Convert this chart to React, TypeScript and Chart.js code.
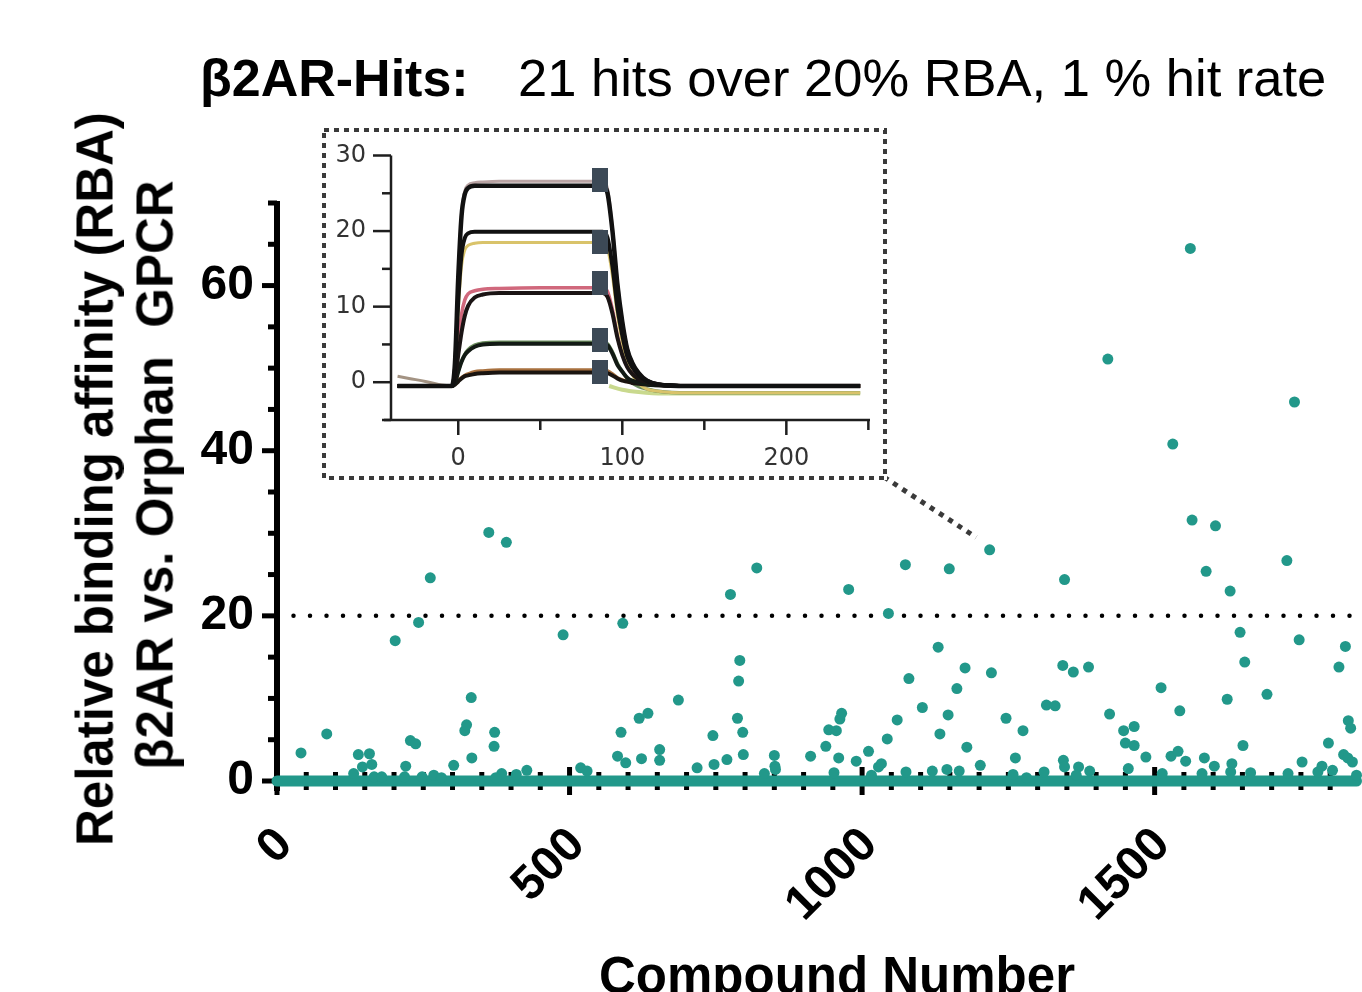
import React, { useEffect, useRef } from "react";
import { Chart, registerables } from "chart.js";

Chart.register(...registerables);

const TEAL = "#22988a";
const SANS = "'Liberation Sans', Arial, Helvetica, sans-serif";

// ---------- main screen data ----------
const compoundIds = [
  362, 392, 262, 202, 242, 489, 591, 775, 820, 977, 1045, 1074, 1149, 1218, 1346, 1420, 1531, 1561, 1564, 1604,
  1588, 1629, 1726, 1739, 1646, 1747, 1826,
  41, 85, 139, 158, 146, 162, 131, 166, 179, 220, 228, 237, 218, 248, 268, 281, 302, 321, 324, 332, 333, 372,
  371, 384, 374, 409, 427,
  519, 530, 582, 588, 596, 619, 634, 623, 654, 654, 686, 718, 745, 747, 769, 791, 789, 787, 796, 797, 833, 850,
  851, 852, 912, 938,
  943, 956, 962, 965, 960, 952, 990, 1011, 1028, 1033, 1016, 1043, 1060, 1080, 1075, 1103, 1120, 1130, 1133,
  1147, 1145, 1162, 1176, 1179, 1166, 1202, 1221, 1246, 1275, 1262, 1258, 1281, 1311, 1315, 1330, 1343, 1361,
  1387, 1344, 1346, 1370, 1389, 1366,
  1423, 1447, 1465, 1450, 1465, 1485, 1455, 1511, 1543, 1528, 1540, 1553, 1513, 1585, 1602, 1581, 1624, 1654,
  1651, 1632, 1630, 1664, 1692, 1752, 1728, 1786, 1779, 1804, 1797, 1815, 1831, 1835, 1823, 1830, 1838, 1845,
];
const rbaPercent = [
  30.1, 28.9, 24.6, 17.0, 19.2, 17.7, 19.1, 22.6, 25.8, 23.2, 20.3, 26.2, 25.7, 28.0, 24.4, 51.1, 40.8, 64.5, 31.6, 30.9,
  25.4, 23.0, 26.7, 45.9, 18.0, 17.1, 16.3,
  3.4, 5.7, 3.2, 3.3, 1.7, 2.0, 0.9, 0.5, 0.5, 1.8, 4.9, 4.5, 0.5, 0.5, 0.7, 0.4, 1.9, 6.1, 6.8, 10.1, 2.8, 5.9,
  4.2, 0.9, 0.4, 0.8, 1.3,
  1.6, 1.2, 3.0, 5.9, 2.2, 7.6, 8.2, 2.7, 3.8, 2.5, 9.8, 1.6, 5.5, 2.0, 2.6, 14.6, 12.1, 7.6, 5.9, 3.2, 0.9, 3.1,
  1.8, 1.4, 3.0, 4.2,
  6.2, 6.1, 7.5, 8.2, 2.8, 1.0, 2.4, 3.6, 1.7, 2.1, 0.7, 5.1, 7.4, 12.4, 1.1, 8.9, 1.2, 16.2, 5.7,
  8.0, 1.4, 11.2, 13.7, 4.1, 1.2, 1.9, 13.1, 7.6, 6.1, 2.8, 0.8, 0.4, 1.1, 9.2, 9.1, 14.0, 13.2,
  13.8, 2.5, 1.7, 1.7, 1.2, 0.7,
  8.1, 6.1, 6.6, 4.6, 4.3, 2.9, 1.5, 11.3, 8.5, 3.0, 3.6, 2.4, 0.9, 2.8, 1.8, 0.9, 9.9, 14.4,
  4.3, 2.1, 1.1, 1.0, 10.5, 2.3, 0.9, 1.8, 1.1, 1.3, 4.6, 13.8, 7.3, 6.4, 3.2, 2.8, 2.3, 0.7,
];
const HIT_THRESHOLD = 20;
const X_MAX = 1845;
const Y_MAX = 70;
const xTickValues = [0, 500, 1000, 1500];
const yTickValues = [0, 20, 40, 60];

// ---------- inset sensorgram data ----------
const sprTime = [-37, -4, -2, 0, 2, 4, 6, 10, 15, 25, 50, 88, 91, 94, 97, 100, 103, 106, 110, 115, 122, 140, 245];
const sprBlackA = [-0.5, -0.5, 2.6, 13.9, 22, 24.9, 25.7, 26, 26, 26, 26, 26, 25, 20, 13, 8, 4.4, 2.6, 1.2, 0.2, -0.3, -0.5, -0.5];
const sprGreyA = [-0.5, -0.5, 2.7, 14.2, 22.4, 25.3, 26.1, 26.4, 26.5, 26.6, 26.6, 26.6, 25.6, 20.5, 13.4, 8.2, 4.5, 2.7, 1.3, 0.3, -0.2, -0.4, -0.4];
const sprBlackB = [-0.5, -0.5, 1.8, 10.7, 16.9, 19.1, 19.7, 19.9, 19.9, 19.9, 19.9, 19.9, 19.1, 15.3, 9.9, 6.2, 3.4, 2.0, 0.9, 0.2, -0.3, -0.5, -0.5];
const sprYellowB = [-0.5, -0.5, 1.6, 9.5, 15.4, 17.5, 18.1, 18.4, 18.5, 18.5, 18.5, 18.5, 17.7, 14.1, 8.9, 5.3, 2.6, 1.0, -0.2, -0.9, -1.2, -1.4, -1.4];
const sprPinkC = [-0.5, -0.5, 0.8, 5.5, 9.0, 10.9, 11.7, 12.1, 12.3, 12.4, 12.5, 12.5, 12.0, 9.6, 6.2, 3.8, 2.1, 1.2, 0.5, 0.1, -0.3, -0.5, -0.5];
const sprBlackC = [-0.5, -0.5, 0.4, 3.6, 6.6, 8.8, 10.1, 11.2, 11.6, 11.8, 11.8, 11.8, 11.3, 9.1, 5.9, 3.6, 2.0, 1.1, 0.4, 0, -0.3, -0.5, -0.5];
const sprGreenD = [-0.5, -0.5, -0.1, 1.5, 2.8, 3.7, 4.3, 4.9, 5.2, 5.3, 5.3, 5.3, 5.1, 4.0, 2.5, 1.4, 0.5, -0.1, -0.6, -0.9, -1.2, -1.4, -1.4];
const sprBlackD = [-0.5, -0.5, -0.1, 1.4, 2.7, 3.6, 4.1, 4.7, 5.0, 5.1, 5.1, 5.1, 4.9, 3.8, 2.3, 1.4, 0.6, 0.2, 0, -0.3, -0.4, -0.5, -0.5];
const sprBrownE = [-0.5, -0.5, -0.3, 0.2, 0.6, 0.9, 1.1, 1.4, 1.5, 1.6, 1.6, 1.6, 1.5, 1.1, 0.6, 0.3, 0.1, 0, -0.2, -0.3, -0.4, -0.5, -0.5];
const sprBlackE = [-0.5, -0.5, -0.3, 0.1, 0.5, 0.8, 0.9, 1.1, 1.2, 1.3, 1.3, 1.3, 1.2, 0.9, 0.5, 0.2, 0.1, -0.1, -0.2, -0.3, -0.4, -0.5, -0.5];
const sprPreTime = [-37, -30, -20, -12, -5];
const sprPreDrift = [0.8, 0.5, 0.1, -0.3, -0.5];
const sprPostTime = [92, 100, 110, 125, 245];
const sprPostLow = [-0.5, -1.0, -1.3, -1.5, -1.5];
const sprMarkerTime = [86.6, 86.6, 86.6, 86.6, 86.6];
const sprMarkerLevel = [26.8, 18.5, 13.1, 5.6, 1.3];
const insetXTicks = [0, 100, 200];
const insetYTicks = [0, 10, 20, 30];

// ---------- layout ----------
const W = 1362;
const H = 992;
const INSET = { left: 322, top: 128, width: 565, height: 352 };

const pts = (xs: number[], ys: number[]) => xs.map((x, i) => ({ x, y: ys[i] }));

const mainAxesPlugin = {
  id: "mainAxes",
  beforeDatasetsDraw(chart: any) {
    const { ctx, chartArea: a, scales } = chart;
    const xs = scales.x;
    const ys = scales.y;
    ctx.save();
    ctx.strokeStyle = "#000";
    ctx.lineCap = "butt";
    ctx.lineWidth = 6;
    ctx.beginPath();
    ctx.moveTo(a.left, ys.getPixelForValue(Y_MAX) - 2);
    ctx.lineTo(a.left, a.bottom + 10);
    ctx.stroke();
    ctx.lineWidth = 5;
    for (let v = 0; v <= Y_MAX; v += 5) {
      const y = ys.getPixelForValue(v);
      const len = v % 20 === 0 ? 15 : 9;
      ctx.beginPath();
      ctx.moveTo(a.left - len, y);
      ctx.lineTo(a.left, y);
      ctx.stroke();
    }
    ctx.lineWidth = 5;
    ctx.beginPath();
    ctx.moveTo(a.left, a.bottom);
    ctx.lineTo(a.right, a.bottom);
    ctx.stroke();
    for (let v = 0; v <= X_MAX; v += 50) {
      const x = xs.getPixelForValue(v);
      const major = v % 500 === 0;
      ctx.beginPath();
      ctx.moveTo(x, a.bottom - (major ? 14 : 9));
      ctx.lineTo(x, a.bottom + (major ? 14 : 9));
      ctx.stroke();
    }
    ctx.restore();
  },
  afterDraw(chart: any) {
    const { ctx, scales } = chart;
    const ex = scales.x.getPixelForValue(1195);
    const ey = scales.y.getPixelForValue(29.5);
    ctx.save();
    ctx.strokeStyle = "#3a3a3a";
    ctx.lineWidth = 5;
    ctx.setLineDash([5, 6]);
    ctx.beginPath();
    ctx.moveTo(INSET.left + INSET.width - 3, INSET.top + INSET.height - 3);
    ctx.lineTo(ex, ey);
    ctx.stroke();
    ctx.restore();
  },
};

const insetAxesPlugin = {
  id: "insetAxes",
  beforeDatasetsDraw(chart: any) {
    const { ctx, chartArea: a, scales } = chart;
    const xs = scales.x;
    const ys = scales.y;
    ctx.save();
    ctx.strokeStyle = "#1e1e1e";
    ctx.lineWidth = 2.5;
    ctx.beginPath();
    ctx.moveTo(a.left, a.top);
    ctx.lineTo(a.left, a.bottom);
    ctx.moveTo(a.left - 7, a.bottom);
    ctx.lineTo(a.right, a.bottom);
    ctx.stroke();
    for (let v = -5; v <= 30; v += 5) {
      const y = ys.getPixelForValue(v);
      const len = v % 10 === 0 ? 18 : 9;
      ctx.beginPath();
      ctx.moveTo(a.left - len, y);
      ctx.lineTo(a.left, y);
      ctx.stroke();
    }
    for (let v = 0; v <= 250; v += 50) {
      const x = xs.getPixelForValue(v);
      const len = v % 100 === 0 ? 15 : 10;
      ctx.beginPath();
      ctx.moveTo(x, a.bottom);
      ctx.lineTo(x, a.bottom + len);
      ctx.stroke();
    }
    ctx.restore();
  },
  afterDraw(chart: any) {
    const { ctx, width, height } = chart;
    ctx.save();
    ctx.strokeStyle = "#3a3a3a";
    ctx.lineWidth = 4;
    ctx.setLineDash([5, 5]);
    ctx.strokeRect(2, 2, width - 4, height - 4);
    ctx.restore();
  },
};

export default function App() {
  const mainRef = useRef<HTMLCanvasElement | null>(null);
  const insetRef = useRef<HTMLCanvasElement | null>(null);

  useEffect(() => {
    if (!mainRef.current || !insetRef.current) return;

    const main = new Chart(mainRef.current, {
      type: "scatter",
      data: {
        datasets: [
          {
            type: "scatter",
            data: pts(compoundIds, rbaPercent),
            pointRadius: 5.5,
            pointHoverRadius: 5.5,
            backgroundColor: TEAL,
            borderWidth: 0,
            clip: false as any,
          },
          {
            type: "line",
            data: [
              { x: 0, y: 0 },
              { x: X_MAX, y: 0 },
            ],
            borderColor: TEAL,
            borderWidth: 11,
            borderCapStyle: "round",
            pointRadius: 0,
            clip: false as any,
          },
          {
            type: "line",
            data: [
              { x: 0, y: HIT_THRESHOLD },
              { x: X_MAX, y: HIT_THRESHOLD },
            ],
            borderColor: "#000",
            borderWidth: 4.5,
            borderDash: [0, 16.5],
            borderCapStyle: "round",
            pointRadius: 0,
          },
        ] as any,
      },
      options: {
        animation: false,
        responsive: false,
        devicePixelRatio: 1,
        layout: { padding: { top: 203, right: 0, left: 0, bottom: 0 } },
        plugins: { legend: { display: false }, tooltip: { enabled: false } },
        scales: {
          x: {
            type: "linear",
            min: 0,
            max: X_MAX,
            grid: { display: false, drawTicks: false },
            border: { display: false },
            afterBuildTicks: (s: any) => {
              s.ticks = xTickValues.map((value) => ({ value }));
            },
            afterFit: (s: any) => {
              s.height = H - 781;
            },
            ticks: {
              autoSkip: false,
              minRotation: 45,
              maxRotation: 45,
              padding: 36,
              labelOffset: 8,
              color: "#000",
              font: { family: SANS, size: 48, weight: "bold" },
              callback: (v: any) => String(v),
            },
          },
          y: {
            type: "linear",
            min: 0,
            max: Y_MAX,
            grid: { display: false, drawTicks: false },
            border: { display: false },
            afterBuildTicks: (s: any) => {
              s.ticks = yTickValues.map((value) => ({ value }));
            },
            afterFit: (s: any) => {
              s.width = 277;
            },
            ticks: {
              padding: 23,
              color: "#000",
              font: { family: SANS, size: 48, weight: "bold" },
              callback: (v: any) => String(v),
            },
          },
        },
      } as any,
      plugins: [mainAxesPlugin],
    });

    const marker = document.createElement("canvas");
    marker.width = 16;
    marker.height = 24;
    const mctx = marker.getContext("2d")!;
    mctx.fillStyle = "#3c4956";
    mctx.fillRect(0, 0, 16, 24);

    const curve = (ys: number[], color: string, width: number) => ({
      type: "line",
      data: pts(sprTime, ys),
      borderColor: color,
      borderWidth: width,
      pointRadius: 0,
      cubicInterpolationMode: "monotone",
    });

    const insetFont = { family: "'DejaVu Sans', sans-serif", size: 24 };

    const inset = new Chart(insetRef.current, {
      type: "line",
      data: {
        datasets: [
          {
            type: "scatter",
            data: pts(sprMarkerTime, sprMarkerLevel),
            pointStyle: marker,
            pointRadius: 10,
          },
          curve(sprBlackA, "#111111", 4.5),
          curve(sprBlackB, "#111111", 4),
          curve(sprBlackC, "#1a1414", 4),
          curve(sprBlackD, "#121a14", 4),
          curve(sprBlackE, "#1a1410", 4),
          curve(sprGreyA, "#b9a3a3", 3),
          curve(sprYellowB, "#d9c36a", 3),
          curve(sprPinkC, "#d0687c", 3.5),
          curve(sprGreenD, "#6c8e5e", 3.5),
          curve(sprBrownE, "#a8703e", 3.5),
          {
            type: "line",
            data: pts(sprPreTime, sprPreDrift),
            borderColor: "#a39383",
            borderWidth: 3,
            pointRadius: 0,
            cubicInterpolationMode: "monotone",
          },
          {
            type: "line",
            data: pts(sprPostTime, sprPostLow),
            borderColor: "#c9d98e",
            borderWidth: 4,
            pointRadius: 0,
            cubicInterpolationMode: "monotone",
          },
        ] as any,
      },
      options: {
        animation: false,
        responsive: false,
        devicePixelRatio: 1,
        layout: { padding: { top: 27.5, right: 17, left: 0, bottom: 0 } },
        plugins: { legend: { display: false }, tooltip: { enabled: false } },
        scales: {
          x: {
            type: "linear",
            min: -41,
            max: 251,
            grid: { display: true, drawOnChartArea: false, drawTicks: true, tickLength: 24, color: "rgba(0,0,0,0)" },
            border: { display: false },
            afterBuildTicks: (s: any) => {
              s.ticks = insetXTicks.map((value) => ({ value }));
            },
            afterFit: (s: any) => {
              s.height = 60;
            },
            ticks: {
              maxRotation: 0,
              minRotation: 0,
              padding: 0,
              color: "#333",
              font: insetFont,
            },
          },
          y: {
            type: "linear",
            min: -5,
            max: 30,
            grid: { display: true, drawOnChartArea: false, drawTicks: true, tickLength: 25, color: "rgba(0,0,0,0)" },
            border: { display: false },
            afterBuildTicks: (s: any) => {
              s.ticks = insetYTicks.map((value) => ({ value }));
            },
            afterFit: (s: any) => {
              s.width = 69;
            },
            ticks: {
              padding: 0,
              color: "#333",
              font: insetFont,
            },
          },
        },
      } as any,
      plugins: [insetAxesPlugin],
    });

    return () => {
      main.destroy();
      inset.destroy();
    };
  }, []);

  const txt: React.CSSProperties = {
    position: "absolute",
    fontFamily: SANS,
    color: "#000",
    whiteSpace: "nowrap",
    margin: 0,
  };

  return (
    <div style={{ position: "fixed", left: 0, top: 0, width: W, height: H, overflow: "hidden", background: "#fff" }}>
      <canvas ref={mainRef} width={W} height={H} style={{ position: "absolute", left: 0, top: 0 }} />
      <canvas
        ref={insetRef}
        width={INSET.width}
        height={INSET.height}
        style={{ position: "absolute", left: INSET.left, top: INSET.top, background: "#fff" }}
      />
      <div style={{ ...txt, left: 200, top: 52, fontSize: 52, lineHeight: "52px", fontWeight: "bold" }}>β2AR-Hits:</div>
      <div style={{ ...txt, left: 518, top: 52, fontSize: 52.5, lineHeight: "52px" }}>
        21 hits over 20% RBA, 1 % hit rate
      </div>
      <div
        style={{
          ...txt,
          left: 95,
          top: 479,
          fontSize: 51,
          lineHeight: "51px",
          fontWeight: "bold",
          transform: "translate(-50%, -50%) rotate(-90deg)",
        }}
      >
        Relative binding affinity (RBA)
      </div>
      <div
        style={{
          ...txt,
          left: 155,
          top: 475,
          fontSize: 51,
          lineHeight: "51px",
          fontWeight: "bold",
          transform: "translate(-50%, -50%) rotate(-90deg)",
        }}
      >
        β2AR vs. Orphan&nbsp; GPCR
      </div>
      <div
        style={{
          ...txt,
          left: 837,
          top: 950,
          fontSize: 51,
          lineHeight: "51px",
          fontWeight: "bold",
          transform: "translateX(-50%)",
        }}
      >
        Compound Number
      </div>
    </div>
  );
}
